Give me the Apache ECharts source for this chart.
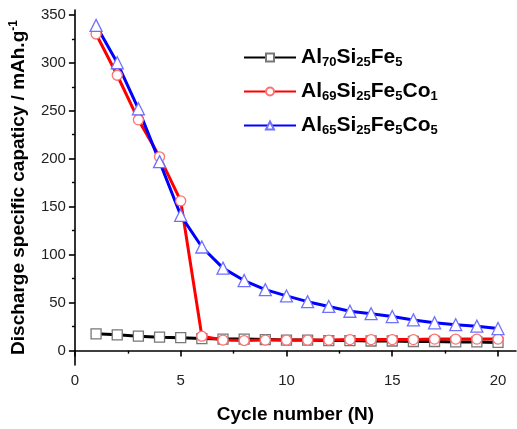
<!DOCTYPE html>
<html>
<head>
<meta charset="utf-8">
<script src="https://cdn.jsdelivr.net/npm/echarts@6/dist/echarts.min.js"></script>
<style>
  html, body { margin: 0; padding: 0; background: #fff; }
  #chart { width: 517px; height: 429px; }
</style>
</head>
<body>
<div id="chart"></div>
<script>
// Cycle index
const cycles = [1,2,3,4,5,6,7,8,9,10,11,12,13,14,15,16,17,18,19,20];

// Discharge capacity (mAh/g) per cycle for each alloy
const alFeSi = [17.5,16.5,15,14,13.5,12.5,12,12,11.5,11,11,10.5,10.5,10,10,9.5,9.5,9,9,8.5];
const alFeSiCo1 = [330,287,240.5,202,156,15,11,10.5,11,11,11,11,11.5,11.5,11.5,11.5,12,12,12,12];
const alFeSiCo5 = [339,300,252,197,141,108,86,73,63.5,57,51,46,41,38.5,35.5,32,29,27,25.5,23];

// Legend labels (rich text with subscripts)
const seriesNames = ['Al70Si25Fe5', 'Al69Si25Fe5Co1', 'Al65Si25Fe5Co5'];
const seriesLabels = {
  'Al70Si25Fe5':    '{b|Al}{s|70}{b|Si}{s|25}{b|Fe}{s|5}',
  'Al69Si25Fe5Co1': '{b|Al}{s|69}{b|Si}{s|25}{b|Fe}{s|5}{b|Co}{s|1}',
  'Al65Si25Fe5Co5': '{b|Al}{s|65}{b|Si}{s|25}{b|Fe}{s|5}{b|Co}{s|5}'
};

// Axis tick positions
const xMajor = [0,5,10,15,20];
const xMinor = [2.5,7.5,12.5,17.5];
const yMajor = [0,50,100,150,200,250,300,350];
const yMinor = [25,75,125,175,225,275,325];

const FONT = '"Liberation Sans", Arial, sans-serif';

function pairs(vals) { return cycles.map((c, i) => [c, vals[i]]); }

function lineSeries(name, vals, lineColor, symColor, symbol, size) {
  return {
    name: name,
    type: 'line',
    data: pairs(vals),
    xAxisIndex: 0, yAxisIndex: 0,
    symbol: symbol,
    symbolSize: size,
    showAllSymbol: true,
    lineStyle: { color: lineColor, width: 3 },
    itemStyle: { color: '#fff', borderColor: symColor, borderWidth: 1.3 },
    emphasis: { disabled: true },
    animation: false
  };
}

const axisLineStyle = { show: true, lineStyle: { color: '#000', width: 1.6 } };

const chart = echarts.init(document.getElementById('chart'));
chart.setOption({
  backgroundColor: '#fff',
  animation: false,
  grid: { left: 73, right: 1, top: 10, bottom: 61, containLabel: false },
  legend: {
    orient: 'vertical',
    left: 238,
    top: 41,
    itemWidth: 52,
    itemHeight: 10,
    itemGap: 11,
    data: seriesNames,
    formatter: n => seriesLabels[n],
    textStyle: {
      rich: {
        b: { fontFamily: FONT, fontWeight: 'bold', fontSize: 21, color: '#000', lineHeight: 25 },
        s: { fontFamily: FONT, fontWeight: 'bold', fontSize: 13, color: '#000', padding: [10, 0, 0, 0], lineHeight: 25 }
      }
    }
  },
  xAxis: [{
    type: 'value', min: 0, max: 20.85, interval: 5,
    position: 'bottom',
    axisLine: axisLineStyle,
    axisTick: { show: true, inside: false, length: 6, customValues: xMajor, lineStyle: { color: '#000', width: 1.6 } },
    axisLabel: { customValues: xMajor, margin: 8, color: '#222', fontFamily: FONT, fontSize: 15 },
    splitLine: { show: false },
    name: 'Cycle number (N)',
    nameLocation: 'middle',
    nameGap: 40,
    nameTextStyle: { fontFamily: FONT, fontWeight: 'bold', fontSize: 19, color: '#000' }
  }, {
    type: 'value', min: 0, max: 20.85, interval: 5,
    position: 'bottom',
    axisLine: { show: false },
    axisTick: { show: true, length: 3, customValues: xMinor, lineStyle: { color: '#000', width: 1.4 } },
    axisLabel: { show: false },
    splitLine: { show: false }
  }],
  yAxis: [{
    type: 'value', min: -15, max: 355, interval: 50,
    position: 'left',
    axisLine: axisLineStyle,
    axisTick: { show: true, length: 6, customValues: yMajor, lineStyle: { color: '#000', width: 1.6 } },
    axisLabel: { customValues: yMajor, margin: 9, color: '#222', fontFamily: FONT, fontSize: 15 },
    splitLine: { show: false },
    name: '{t|Discharge specific capaticy / mAh.g}{sup|-1}',
    nameLocation: 'middle',
    nameRotate: 90,
    nameGap: 41,
    nameTextStyle: {
      rich: {
        t: { fontFamily: FONT, fontWeight: 'bold', fontSize: 19, color: '#000', lineHeight: 22 },
        sup: { fontFamily: FONT, fontWeight: 'bold', fontSize: 12, color: '#000', padding: [0, 0, 10, 0], lineHeight: 22 }
      }
    }
  }, {
    type: 'value', min: -15, max: 355, interval: 50,
    position: 'left',
    axisLine: { show: false },
    axisTick: { show: true, length: 3, customValues: yMinor, lineStyle: { color: '#000', width: 1.4 } },
    axisLabel: { show: false },
    splitLine: { show: false }
  }],
  series: [
    lineSeries(seriesNames[0], alFeSi, '#000000', '#777777', 'rect', 10),
    lineSeries(seriesNames[1], alFeSiCo1, '#ff0000', '#ff7070', 'circle', 10),
    lineSeries(seriesNames[2], alFeSiCo5, '#0000ff', '#7070ff', 'triangle', 12)
  ]
});
</script>
</body>
</html>
